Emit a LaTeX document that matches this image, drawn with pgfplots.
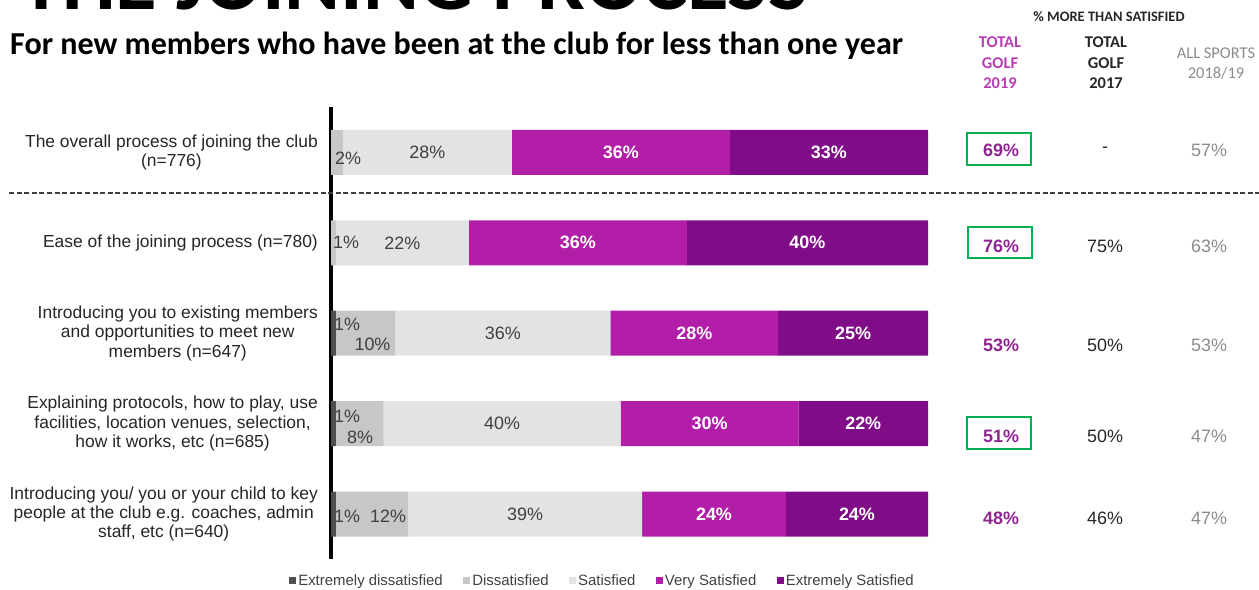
\documentclass[border=0pt]{standalone}
\usepackage{pgfplots}
\pgfplotsset{compat=1.18}
\usepackage{pgfplotstable}
\usepackage{graphicx}
\usepackage{fontspec}
\setmainfont{Liberation Sans}
\newfontfamily\calib{Carlito}

\definecolor{cED}{HTML}{505052}
\definecolor{cD}{HTML}{C7C7C9}
\definecolor{cS}{HTML}{E2E3E5}
\definecolor{cVS}{HTML}{B21EA8}
\definecolor{cES}{HTML}{800C88}
\definecolor{cPurp}{HTML}{8E2490}
\definecolor{cHead}{HTML}{BB3BB2}
\definecolor{cGrayT}{HTML}{8C8C8C}
\definecolor{cGreen}{HTML}{00B050}
\definecolor{cTxt}{HTML}{262626}
\definecolor{cLbl}{HTML}{404040}

\pgfplotstableread{
row ED D S VS ES lS lVS lES
0 0 2.0 28.3 36.5 33.2 28 36 33
1 0 0.8 22.3 36.5 40.4 22 36 40
2 0.8 10.0 36.0 28.1 25.1 36 28 25
3 0.8 8.0 39.7 29.8 21.7 40 30 22
4 0.8 12.1 39.2 24.1 23.8 39 24 24
}\data

\begin{document}
\begin{tikzpicture}[lbl/.style={font=\fontsize{18}{20}\selectfont, text=cLbl, inner sep=0pt}]
\begin{axis}[
  at={(331bp,30.8bp)}, anchor=south west,
  scale only axis, width=597bp, height=452bp,
  xbar stacked, bar width=45bp,
  xmin=0, xmax=100, ymin=-0.5, ymax=4.5, y dir=reverse,
  axis x line=none, axis y line=left,
  y axis line style={-, line width=3.5bp, black},
  ytick={0,1,2,3,4}, major tick length=0pt, ytick style={draw=none},
  yticklabels={{The overall process of joining the club\\(n=776)},
               {Ease of the joining process (n=780)},
               {Introducing you to existing members\\and opportunities to meet new\\members (n=647)},
               {Explaining protocols, how to play, use\\facilities, location venues, selection,\\how it works, etc (n=685)},
               {Introducing you/ you or your child to key\\people at the club e.g. coaches, admin\\staff, etc (n=640)}},
  yticklabel style={align=center, font=\fontsize{17.5}{19.5}\selectfont, text=cTxt, inner sep=0pt, xshift=-13bp},
  legend style={at={(0.4548,-0.0482)}, anchor=center, draw=none, fill=none,
     legend columns=5, font=\fontsize{15}{17}\selectfont, text=cLbl,
     /tikz/every even column/.append style={column sep=18.5bp}},
  legend image code/.code={\fill[#1] (0bp,-3.5bp) rectangle (7bp,3.5bp);},
  mid/.style={nodes near coords={\pgfplotspointmeta\%},
     point meta=explicit symbolic,
     every node near coord/.append style={anchor=center, inner sep=0pt,
        font=\fontsize{18}{20}\selectfont}},
]
\addplot[fill=cED, draw=none] table[x=ED, y=row]{\data};
\addlegendentry{Extremely dissatisfied}
\addplot[fill=cD, draw=none] table[x=D, y=row]{\data};
\addlegendentry{Dissatisfied}
\addplot[fill=cS, draw=none, mid, every node near coord/.append style={text=cLbl}] table[x=S, y=row, meta=lS]{\data};
\addlegendentry{Satisfied}
\addplot[fill=cVS, draw=none, mid, every node near coord/.append style={text=white, font=\fontsize{18}{20}\selectfont\bfseries}] table[x=VS, y=row, meta=lVS]{\data};
\addlegendentry{Very Satisfied}
\addplot[fill=cES, draw=none, mid, every node near coord/.append style={text=white, font=\fontsize{18}{20}\selectfont\bfseries}] table[x=ES, y=row, meta=lES]{\data};
\addlegendentry{Extremely Satisfied}

\coordinate (a1) at (axis cs:0.67,0.06);
\coordinate (a2) at (axis cs:0.33,1.0);
\coordinate (a3) at (axis cs:0.5,1.906);
\coordinate (a4) at (axis cs:6.95,2.127);
\coordinate (a5) at (axis cs:0.5,2.917);
\coordinate (a6) at (axis cs:4.86,3.149);
\coordinate (a7) at (axis cs:0.5,4.03);
\coordinate (a8) at (axis cs:9.55,4.03);
\end{axis}

\node[lbl, anchor=west] at (a1) {2\%};
\node[lbl, anchor=west] at (a2) {1\%};
\node[lbl, anchor=west] at (a3) {1\%};
\node[lbl] at (a4) {10\%};
\node[lbl, anchor=west] at (a5) {1\%};
\node[lbl] at (a6) {8\%};
\node[lbl, anchor=west] at (a7) {1\%};
\node[lbl] at (a8) {12\%};

\begin{scope}[x=1bp, y=1bp]
\draw[cLbl, line width=1.3bp, dash pattern=on 5bp off 2.6bp] (9,397) -- (1259,397);
\node[anchor=base west, inner sep=0pt] at (20,580) {\resizebox{788bp}{!}{\calib\bfseries THE JOINING PROCESS}};
\node[anchor=base west, inner sep=0pt] at (10,535) {\resizebox{893bp}{!}{\calib\bfseries For new members who have been at the club for less than one year}};
\node[anchor=base, inner sep=0pt, text=cTxt, font=\calib\bfseries\fontsize{14.5}{16}\selectfont] at (1109,568) {\% MORE THAN SATISFIED};
\begin{scope}[every node/.style={anchor=base, inner sep=0pt, font=\calib\bfseries\fontsize{16.5}{18}\selectfont}]
\node[text=cHead] at (1000,542) {TOTAL};
\node[text=cHead] at (1000,521) {GOLF};
\node[text=cHead] at (1000,501) {2019};
\node[text=cTxt] at (1106,542) {TOTAL};
\node[text=cTxt] at (1106,521) {GOLF};
\node[text=cTxt] at (1106,501) {2017};
\end{scope}
\begin{scope}[every node/.style={anchor=base, inner sep=0pt, font=\calib\fontsize{16.5}{18}\selectfont, text=cGrayT}]
\node at (1216,531) {ALL SPORTS};
\node at (1216,511) {2018/19};
\end{scope}
\begin{scope}[every node/.style={anchor=center, inner sep=0pt, font=\fontsize{18}{20}\selectfont}]
\node[text=cPurp, font=\fontsize{18}{20}\selectfont\bfseries] at (1001,440) {69\%};
\node[text=cPurp, font=\fontsize{18}{20}\selectfont\bfseries] at (1001,344) {76\%};
\node[text=cPurp, font=\fontsize{18}{20}\selectfont\bfseries] at (1001,245) {53\%};
\node[text=cPurp, font=\fontsize{18}{20}\selectfont\bfseries] at (1001,154) {51\%};
\node[text=cPurp, font=\fontsize{18}{20}\selectfont\bfseries] at (1001,72) {48\%};
\node[text=cTxt] at (1105,440) {-};
\node[text=cTxt] at (1105,344) {75\%};
\node[text=cTxt] at (1105,245) {50\%};
\node[text=cTxt] at (1105,154) {50\%};
\node[text=cTxt] at (1105,72) {46\%};
\node[text=cGrayT] at (1209,440) {57\%};
\node[text=cGrayT] at (1209,344) {63\%};
\node[text=cGrayT] at (1209,245) {53\%};
\node[text=cGrayT] at (1209,154) {47\%};
\node[text=cGrayT] at (1209,72) {47\%};
\end{scope}
\draw[cGreen, line width=2bp] (967,457) rectangle (1031,425);
\draw[cGreen, line width=2bp] (968,363) rectangle (1032,332);
\draw[cGreen, line width=2bp] (967,173) rectangle (1031,141);
\pgfresetboundingbox
\path[use as bounding box] (0,0) rectangle (1259,590);
\end{scope}
\end{tikzpicture}
\end{document}
